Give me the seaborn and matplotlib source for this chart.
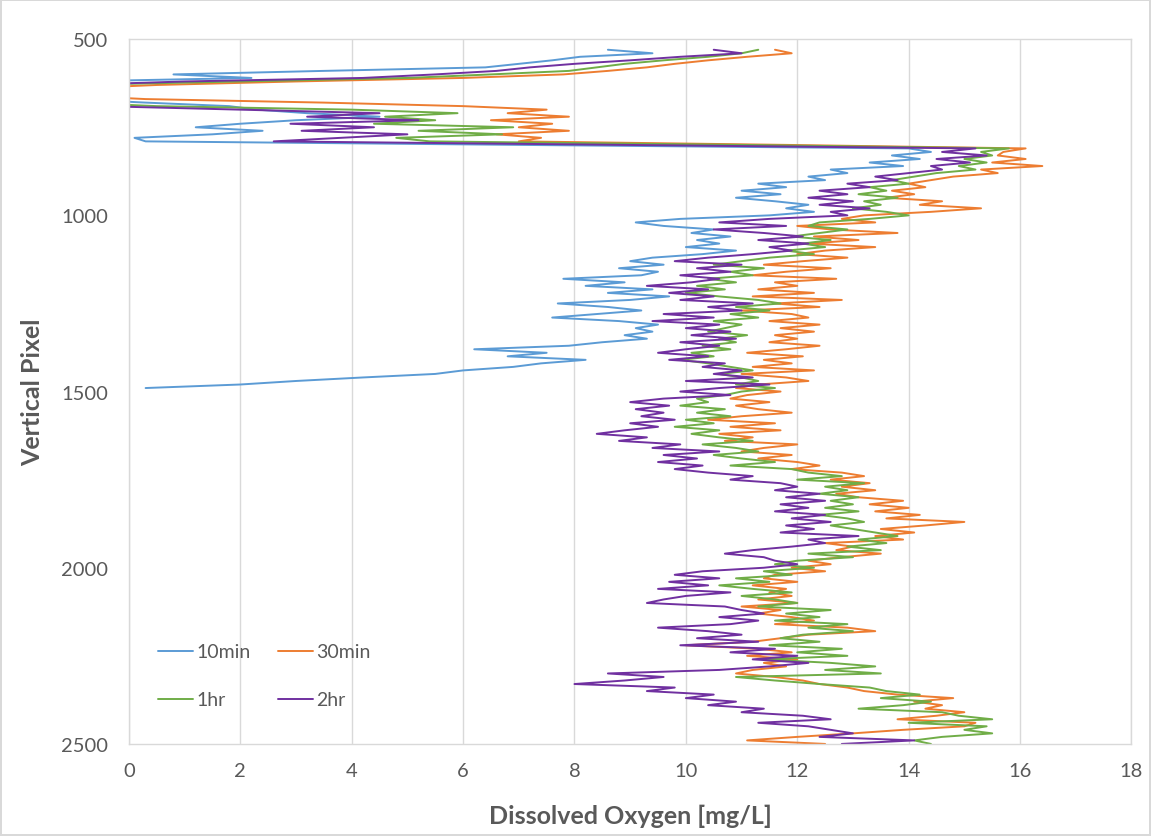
import matplotlib
matplotlib.use("Agg")
import matplotlib.pyplot as plt
import pandas as pd
import seaborn as sns

# vertical pixel rows (every 10 px) at which the dissolved oxygen was read
PIXEL = list(range(530, 2501, 10))
PIXEL_10MIN = list(range(530, 1491, 10))

DO_10MIN = [
    8.6, 9.4, 8.1, 7.6, 7.0, 6.4, 3.5, 0.8, 2.2, -1.0,
    -1.0, -1.0, -1.0, -1.0, -1.0, 0.3, 1.8, 2.3, 3.2, 4.5,
    3.0, 2.0, 1.2, 2.4, 1.5, 0.1, 0.3, 7.0, 14.0, 14.4,
    13.7, 14.2, 13.3, 13.9, 12.6, 12.9, 12.2, 12.5, 11.3, 11.8,
    11.0, 11.7, 10.9, 11.6, 12.2, 11.8, 12.3, 11.5, 9.9, 9.1,
    9.6, 10.5, 10.1, 10.8, 10.2, 10.6, 10.0, 10.9, 10.3, 9.4,
    9.0, 9.6, 8.8, 9.5, 9.2, 7.8, 8.9, 8.2, 9.4, 8.6,
    9.7, 9.0, 7.7, 8.6, 9.2, 8.4, 7.6, 8.8, 9.5, 9.1,
    9.4, 8.9, 9.3, 8.5, 7.9, 6.2, 7.5, 6.8, 8.2, 7.4,
    6.9, 6.0, 5.5, 4.2, 3.0, 2.0, 0.3,
]

DO_30MIN = [
    11.6, 11.9, 11.1, 10.4, 9.8, 9.3, 8.6, 7.8, 6.0, 3.0,
    0.5, -1.0, -1.0, -1.0, 0.3, 3.5, 6.0, 7.5, 6.8, 7.9,
    6.5, 7.6, 7.0, 7.9, 6.6, 7.4, 7.0, 11.8, 16.1, 15.7,
    15.6, 16.1, 15.5, 16.4, 15.3, 15.6, 14.8, 14.4, 14.0, 14.3,
    13.7, 14.1, 13.6, 14.6, 14.2, 15.3, 14.4, 13.2, 12.8, 13.4,
    12.0, 12.6, 13.8, 12.3, 13.1, 12.2, 13.4, 12.5, 12.0, 12.9,
    12.1, 11.4, 12.6, 11.8, 11.2, 12.7, 11.6, 12.0, 11.3, 12.3,
    11.2, 12.8, 11.6, 12.4, 11.0, 11.9, 12.2, 11.5, 12.4, 11.7,
    12.3, 11.6, 12.0, 11.5, 12.4, 11.8, 11.1, 12.1, 11.4, 11.9,
    11.2, 12.3, 11.0, 11.8, 12.2, 11.3, 10.9, 11.7, 11.1, 10.8,
    11.5, 10.9, 11.3, 11.9, 11.0, 10.4, 11.6, 10.8, 11.7, 10.6,
    11.2, 10.7, 12.0, 11.4, 11.0, 11.9, 11.3, 12.0, 12.4, 11.9,
    12.8, 13.2, 12.6, 13.3, 12.8, 13.4, 12.7, 13.1, 13.9, 13.3,
    14.0, 13.4, 14.2, 13.6, 15.0, 14.3, 13.5, 14.1, 13.4, 13.9,
    12.5, 13.0, 12.7, 13.5, 12.8, 12.2, 12.6, 11.9, 12.5, 11.6,
    11.4, 12.0, 11.2, 11.8, 11.5, 11.9, 11.3, 12.0, 11.0, 11.7,
    11.3, 11.9, 12.3, 11.6, 12.9, 13.4, 12.2, 11.7, 11.2, 10.0,
    11.3, 11.9, 11.1, 12.0, 11.4, 11.8, 11.2, 10.9, 11.6, 12.1,
    12.4, 12.9, 13.2, 13.8, 14.8, 14.1, 14.6, 14.3, 15.0, 14.5,
    13.8, 15.2, 15.0, 13.9, 13.0, 12.0, 11.1, 12.5,
]

DO_1HR = [
    11.3, 11.0, 10.4, 9.6, 8.9, 8.4, 7.9, 6.5, 5.0, 2.0,
    -1.0, -1.0, -1.0, -1.0, -1.0, -1.0, 0.5, 4.0, 5.9, 4.6,
    5.5, 4.4, 6.9, 5.2, 6.7, 4.8, 5.4, 11.0, 15.8, 15.3,
    15.5, 15.0, 15.4, 14.9, 15.2, 14.5, 14.1, 13.7, 14.0, 13.3,
    13.6, 13.1, 13.8, 13.2, 13.5, 13.0, 13.6, 14.0, 13.3, 12.4,
    12.2, 12.9, 12.4, 11.9, 12.6, 12.1, 12.5, 11.8, 12.3, 11.5,
    11.0, 10.5, 11.4, 10.8, 11.2, 10.4, 10.9, 10.2, 10.7, 10.0,
    10.6, 11.3, 11.7, 10.9, 11.5, 10.8, 11.3, 10.5, 11.0, 10.7,
    10.4, 11.1, 10.6, 10.9, 10.3, 10.8, 10.1, 10.5, 9.9, 10.4,
    10.8, 11.2, 10.6, 11.0, 11.3, 10.9, 11.6, 11.0, 10.7, 10.2,
    10.4, 9.9, 10.7, 10.2, 10.8, 10.0, 10.5, 9.8, 10.6, 10.1,
    10.6, 11.2, 10.3, 10.9, 11.3, 10.5, 11.0, 11.6, 10.8, 11.9,
    12.2, 12.8, 12.0, 13.2, 12.5, 12.9, 12.4, 13.1, 12.6, 13.0,
    12.5, 13.1, 12.4, 12.9, 13.2, 12.6, 13.0, 13.4, 13.8, 13.1,
    13.6, 12.9, 13.5, 12.2, 13.0, 12.0, 11.6, 12.3, 11.4, 11.9,
    10.9, 11.5, 10.6, 11.2, 11.9, 11.0, 11.6, 12.0, 11.3, 12.6,
    11.8, 12.4, 11.6, 12.9, 12.2, 13.0, 12.1, 11.7, 12.4, 11.5,
    12.8, 12.0, 12.9, 11.4, 12.6, 13.4, 12.5, 13.5, 10.9, 11.6,
    12.4, 13.3, 13.6, 14.2, 13.5, 14.4, 13.9, 13.1, 14.6, 14.9,
    15.5, 14.0, 15.4, 15.0, 15.5, 14.6, 14.1, 14.4,
]

DO_2HR = [
    10.5, 11.0, 9.9, 9.0, 8.0, 7.2, 6.6, 5.5, 4.2, 1.0,
    -1.0, -1.0, -1.0, -1.0, -1.0, -1.0, -0.5, 2.0, 4.5, 3.2,
    5.2, 2.9, 4.4, 3.1, 5.0, 3.8, 2.6, 9.0, 15.2, 14.6,
    15.4, 14.5, 15.1, 14.4, 14.6, 14.0, 13.4, 13.8, 12.9, 13.3,
    12.4, 12.9, 12.2, 13.0, 12.4, 13.3, 12.6, 12.9, 11.5, 10.6,
    11.8, 10.5, 11.4, 12.1, 11.3, 12.2, 11.5, 11.9, 11.2, 10.4,
    9.8, 11.0, 10.2, 10.8, 9.9, 10.6, 10.1, 9.3, 10.4, 9.7,
    10.5, 9.9, 11.2, 10.4, 11.0, 9.6, 10.5, 9.4, 10.6, 10.0,
    10.8, 10.1, 10.9, 9.9, 10.6, 10.0, 9.5, 10.4, 9.7, 10.7,
    10.3, 11.0, 10.5, 11.2, 10.0, 11.5, 10.6, 9.9, 10.8, 9.6,
    9.0, 9.7, 9.1, 9.6, 9.2, 9.8, 9.0, 9.5, 8.9, 8.4,
    9.3, 8.8, 9.9, 9.4, 10.6, 9.6, 10.2, 9.5, 10.3, 9.8,
    10.4, 11.2, 10.8, 11.7, 12.0, 11.6, 12.4, 11.8, 12.5, 11.7,
    12.2, 11.6, 12.5, 11.9, 12.6, 11.8, 12.3, 11.7, 13.1, 12.2,
    12.5, 11.9, 11.2, 10.7, 11.4, 11.6, 12.0, 11.4, 10.3, 9.8,
    10.6, 9.7, 10.4, 9.5, 10.8, 10.0, 9.6, 9.3, 10.7, 11.0,
    11.4, 10.6, 11.3, 10.8, 9.5, 10.4, 11.0, 10.2, 11.3, 9.9,
    11.6, 10.8, 12.0, 11.2, 12.2, 11.5, 10.6, 8.6, 9.6, 8.9,
    8.0, 9.8, 9.3, 10.5, 10.0, 10.9, 10.4, 11.4, 11.0, 12.1,
    12.6, 11.3, 12.2, 12.6, 13.0, 12.4, 14.1, 12.8,
]

SERIES = ["10min", "30min", "1hr", "2hr"]
COLORS = ["#5B9BD5", "#ED7D31", "#70AD47", "#7030A0"]


def main() -> None:
    frames = [
        pd.DataFrame({"pixel": PIXEL_10MIN, "do": DO_10MIN, "series": "10min"}),
        pd.DataFrame({"pixel": PIXEL, "do": DO_30MIN, "series": "30min"}),
        pd.DataFrame({"pixel": PIXEL, "do": DO_1HR, "series": "1hr"}),
        pd.DataFrame({"pixel": PIXEL, "do": DO_2HR, "series": "2hr"}),
    ]
    data = pd.concat(frames, ignore_index=True)

    sns.set_style("white")
    plt.rcParams["font.family"] = ["Lato", "DejaVu Sans"]

    fig = plt.figure(figsize=(11.51, 8.37), dpi=100)
    fig.patch.set_edgecolor("#D9D9D9")
    fig.patch.set_linewidth(1.5)
    ax = fig.add_axes([0.112, 0.110, 0.871, 0.842])

    sns.lineplot(
        data=data, x="do", y="pixel", hue="series", hue_order=SERIES,
        palette=COLORS, orient="y", sort=False, estimator=None,
        linewidth=1.4, ax=ax,
    )

    ax.set_xlim(0, 18)
    ax.set_ylim(2500, 500)
    ax.set_xticks(range(0, 19, 2))
    ax.set_yticks(range(500, 2501, 500))
    ax.grid(axis="x", color="#D9D9D9", linewidth=1)
    ax.grid(axis="y", visible=False)
    for spine in ax.spines.values():
        spine.set_color("#D9D9D9")
        spine.set_linewidth(1)
    ax.tick_params(length=0, labelsize=14.5, colors="#595959")
    ax.tick_params(axis="y", pad=15)
    ax.tick_params(axis="x", pad=13)

    ax.set_xlabel("Dissolved Oxygen [mg/L]", fontsize=18, fontweight="bold", color="#595959")
    ax.set_ylabel("Vertical Pixel", fontsize=18, fontweight="bold", color="#595959")
    ax.xaxis.set_label_coords(0.5, -0.085)
    ax.yaxis.set_label_coords(-0.085, 0.5)

    # legend laid out row by row like the spreadsheet chart: 10min 30min / 1hr 2hr
    handles, labels = ax.get_legend_handles_labels()
    order = [0, 2, 1, 3]
    ax.legend(
        [handles[i] for i in order], [labels[i] for i in order],
        loc="center left", bbox_to_anchor=(0.012, 0.0965), ncol=2, frameon=False,
        fontsize=14, handlelength=1.8, handletextpad=0.15, columnspacing=1.4,
        labelspacing=1.6, labelcolor="#595959",
    )

    fig.savefig("out.png", dpi=100, edgecolor=fig.get_edgecolor())
    plt.close(fig)


if __name__ == "__main__":
    main()
